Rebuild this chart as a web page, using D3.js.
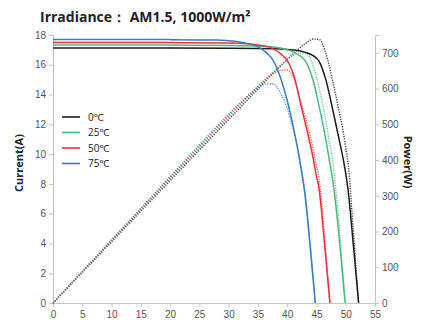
<!DOCTYPE html>
<html>
<head>
<meta charset="utf-8">
<script src="https://cdn.jsdelivr.net/npm/d3@7"></script>
<style>
  body { margin: 0; background: #fff; }
  svg { display: block; font-family: "Open Sans", "Noto Sans", sans-serif; }
  .axis path, .axis line { stroke: #c4c4c4; }
  .axis text { fill: #555; font-size: 10px; }
</style>
</head>
<body>
<div id="chart"></div>
<script>
// series names and colours
var seriesNames = ["0℃", "25℃", "50℃", "75℃"];
var seriesColors = ["#1c1c1c", "#4cb97c", "#e8323b", "#3a7dc0"];

// I-V curves (voltage V, current A)
var v0 = [0, 10, 20, 30, 38, 41, 43, 44.5, 45.5, 46.6, 47.8, 48.7, 49.6, 50.0, 50.4, 51.3, 52.2];
var i0 = [17.12, 17.12, 17.12, 17.11, 17.08, 17.0, 16.85, 16.6, 16.2, 15.0, 12.95, 11.3, 9.6, 8.7, 7.6, 3.9, 0];
var v25 = [0, 10, 20, 30, 36, 38.5, 40.5, 42, 43.2, 44.4, 45.6, 46.4, 47.2, 47.6, 48.0, 49.0, 49.9];
var i25 = [17.33, 17.33, 17.32, 17.3, 17.25, 17.15, 16.95, 16.65, 16.2, 15.0, 12.95, 11.4, 9.6, 8.7, 7.6, 3.9, 0];
var v50 = [0, 10, 20, 30, 33.5, 35.5, 37.5, 39, 40, 41.2, 42.4, 43.5, 44.5, 44.9, 45.4, 46.4, 47.3];
var i50 = [17.5, 17.5, 17.49, 17.47, 17.4, 17.3, 17.1, 16.7, 16.3, 15.2, 13.2, 11.4, 9.6, 8.7, 7.8, 3.9, 0];
var v75 = [0, 10, 20, 28, 31, 33, 35, 36.5, 37.6, 38.8, 40.0, 41.0, 42.0, 42.5, 43.0, 43.9, 44.8];
var i75 = [17.7, 17.7, 17.69, 17.66, 17.58, 17.45, 17.2, 16.8, 16.3, 15.2, 13.6, 11.9, 9.9, 8.7, 7.4, 3.9, 0];

// P-V curves (W), same voltages as above
var p0 = [0, 171.2, 342.4, 513.3, 649.0, 697.0, 724.6, 738.7, 737.1, 699.0, 619.0, 550.3, 476.2, 435.0, 393.1, 200.1, 0];
var p25 = [0, 173.3, 346.4, 519.0, 621.0, 660.3, 686.5, 699.3, 699.8, 666.0, 590.5, 529.0, 453.1, 414.1, 364.8, 191.1, 0];
var p50 = [0, 175.0, 349.8, 524.1, 582.9, 614.2, 641.3, 651.3, 652.0, 626.2, 559.7, 495.9, 427.2, 390.6, 354.1, 181.0, 0];
var p75 = [0, 177.0, 353.8, 494.5, 545.0, 575.9, 602.0, 613.2, 612.9, 589.8, 544.0, 487.9, 415.8, 369.8, 318.2, 171.2, 0];

// ticks
var xTicks = [0, 5, 10, 15, 20, 25, 30, 35, 40, 45, 50, 55];
var iTicks = [0, 2, 4, 6, 8, 10, 12, 14, 16, 18];
var pTicks = [0, 100, 200, 300, 400, 500, 600, 700];

var W = 423, H = 323;
var svg = d3.select("#chart").append("svg").attr("width", W).attr("height", H);

var x = d3.scaleLinear().domain([0, 55]).range([53, 375]);
var y = d3.scaleLinear().domain([0, 18]).range([303, 35]);
var yP = d3.scaleLinear().domain([0, 750]).range([303, 35]);

// axes
svg.append("g").attr("class", "axis")
  .attr("transform", "translate(0,303)")
  .call(d3.axisBottom(x).tickValues(xTicks).tickSize(4).tickPadding(4));

svg.append("g").attr("class", "axis")
  .attr("transform", "translate(53,0)")
  .call(d3.axisLeft(y).tickValues(iTicks).tickSize(4).tickPadding(3));

svg.append("g").attr("class", "axis")
  .attr("transform", "translate(375,0)")
  .call(d3.axisRight(yP).tickValues(pTicks).tickSize(4).tickPadding(3));

svg.selectAll(".axis .domain").attr("stroke", "#c4c4c4");

var ivData = [[v0, i0], [v25, i25], [v50, i50], [v75, i75]];
var pvData = [[v0, p0], [v25, p25], [v50, p50], [v75, p75]];

var ivLine = d3.line().x(d => x(d[0])).y(d => y(d[1])).curve(d3.curveMonotoneX);
var pvLine = d3.line().x(d => x(d[0])).y(d => yP(d[1])).curve(d3.curveMonotoneX);

// power curves, dotted
pvData.forEach(function(s, k) {
  var pts = s[0].map((v, j) => [v, s[1][j]]);
  svg.append("path")
    .attr("d", pvLine(pts))
    .attr("fill", "none")
    .attr("stroke", seriesColors[k])
    .attr("stroke-width", 1.4)
    .attr("stroke-dasharray", "1.2,1.3")
    .attr("opacity", 0.85);
});

// current curves
ivData.forEach(function(s, k) {
  var pts = s[0].map((v, j) => [v, s[1][j]]);
  svg.append("path")
    .attr("d", ivLine(pts))
    .attr("fill", "none")
    .attr("stroke", seriesColors[k])
    .attr("stroke-width", 1.5);
});

// legend
var lg = svg.append("g").attr("transform", "translate(62,117)");
seriesNames.forEach(function(n, k) {
  lg.append("line")
    .attr("x1", 0).attr("x2", 18)
    .attr("y1", k * 15.5).attr("y2", k * 15.5)
    .attr("stroke", seriesColors[k]).attr("stroke-width", 1.6);
  lg.append("text")
    .attr("x", 26).attr("y", k * 15.5 + 3.5)
    .attr("font-size", 10).attr("fill", "#222")
    .text(n);
});

// title and axis labels
svg.append("text")
  .attr("x", 40).attr("y", 22)
  .attr("font-size", 14).attr("font-weight", "bold").attr("fill", "#222")
  .text("Irradiance： AM1.5, 1000W/m²");

svg.append("text")
  .attr("transform", "translate(23,163) rotate(-90)")
  .attr("text-anchor", "middle")
  .attr("font-size", 11).attr("font-weight", "bold").attr("fill", "#222")
  .text("Current(A)");

svg.append("text")
  .attr("transform", "translate(404,162) rotate(90)")
  .attr("text-anchor", "middle")
  .attr("font-size", 11).attr("font-weight", "bold").attr("fill", "#222")
  .text("Power(W)");
</script>
</body>
</html>
